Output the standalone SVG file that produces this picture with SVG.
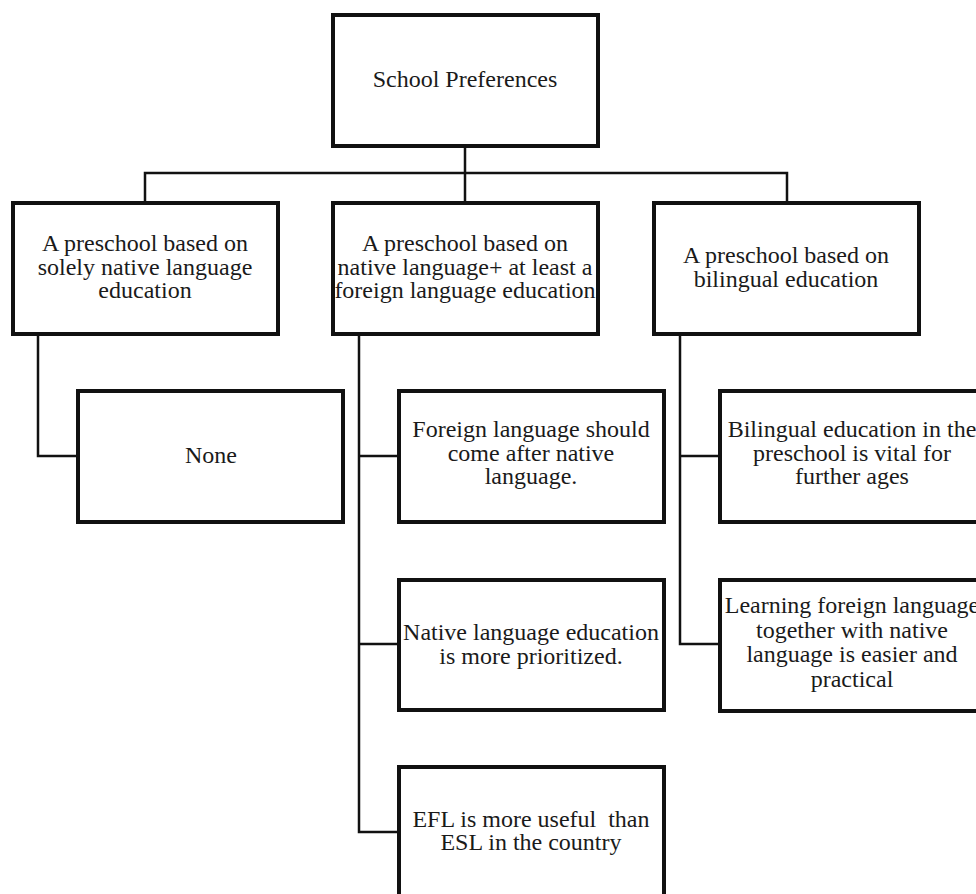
<svg xmlns="http://www.w3.org/2000/svg" width="976" height="894" viewBox="0 0 976 894">
<style>
.box{fill:#fff;stroke:#111;stroke-width:4}
.con{fill:none;stroke:#111;stroke-width:2.5}
text{font-family:"Liberation Serif","Times New Roman",serif;font-size:24px;fill:#1a1a1a;text-anchor:middle}
</style>
<rect width="976" height="894" fill="#fff"/>
<g id="connectors">
<path class="con" d="M465,148 V203 M145,203 V173 H787 V203"/>
<path class="con" d="M38,334 V456 H78"/>
<path class="con" d="M359,334 V832 H399 M359,456 H399 M359,644 H399"/>
<path class="con" d="M680,334 V644 H720 M680,456 H720"/>
</g>
<g id="root"><rect class="box" x="333" y="15" width="265" height="131"/><text x="465" y="87">School Preferences</text></g>
<g id="n1"><rect class="box" x="13" y="203" width="265" height="131"/><text x="145" y="251">A preschool based on</text><text x="145" y="275">solely native language</text><text x="145" y="298">education</text></g>
<g id="n2"><rect class="box" x="333" y="203" width="265" height="131"/><text x="465" y="251">A preschool based on</text><text x="465" y="275">native language+ at least a</text><text x="465" y="298">foreign language education</text></g>
<g id="n3"><rect class="box" x="654" y="203" width="265" height="131"/><text x="786" y="263">A preschool based on</text><text x="786" y="287">bilingual education</text></g>
<g id="n1a"><rect class="box" x="78" y="391" width="265" height="131"/><text x="211" y="463">None</text></g>
<g id="n2a"><rect class="box" x="399" y="391" width="265" height="131"/><text x="531" y="437">Foreign language should</text><text x="531" y="461">come after native</text><text x="531" y="484">language.</text></g>
<g id="n2b"><rect class="box" x="399" y="580" width="265" height="130"/><text x="531" y="640">Native language education</text><text x="531" y="664">is more prioritized.</text></g>
<g id="n2c"><rect class="box" x="399" y="767" width="265" height="131"/><text x="531" y="827" xml:space="preserve">EFL is more useful  than</text><text x="531" y="850">ESL in the country</text></g>
<g id="n3a"><rect class="box" x="720" y="391" width="265" height="131"/><text x="852" y="437">Bilingual education in the</text><text x="852" y="461">preschool is vital for</text><text x="852" y="484">further ages</text></g>
<g id="n3b"><rect class="box" x="720" y="580" width="265" height="131"/><text x="852" y="613">Learning foreign language</text><text x="852" y="638">together with native</text><text x="852" y="662">language is easier and</text><text x="852" y="687">practical</text></g>
</svg>
